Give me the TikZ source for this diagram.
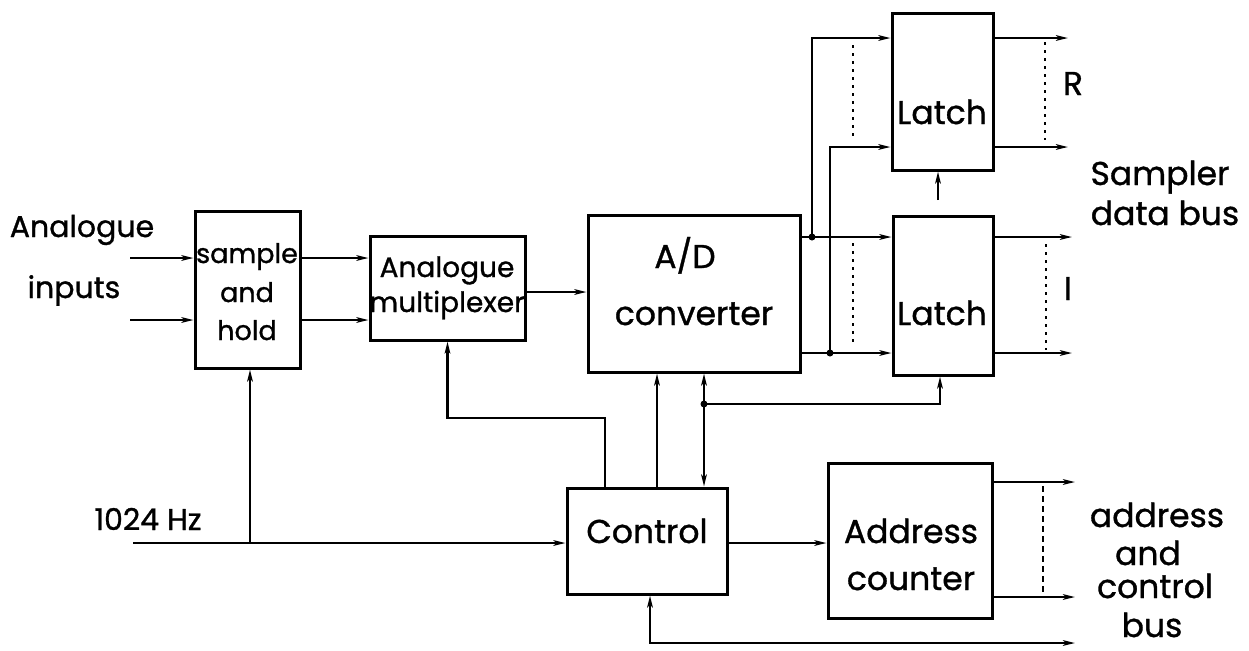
\documentclass[tikz,border=0pt]{standalone}
\usepackage{fontspec}
\setmainfont{Poppins}[FakeBold=1]
\usetikzlibrary{arrows.meta}
\begin{document}
\begin{tikzpicture}[x=0.5pt,y=-0.5pt,
  box/.style={draw, line width=1.5pt, inner sep=0pt},
  wire/.style={line width=1.1pt},
  arr/.style={wire, -{Stealth[length=6pt,width=2.8pt,inset=1.5pt]}},
  dbl/.style={wire, {Stealth[length=6pt,width=2.8pt,inset=1.5pt]}-{Stealth[length=6pt,width=2.8pt,inset=1.5pt]}},
  jdot/.style={circle, fill, inner sep=0pt, minimum size=3.5pt},
  dotline/.style={line width=0.9pt, dash pattern=on 1.5pt off 2.5pt},
  dashline/.style={line width=0.9pt, dash pattern=on 3pt off 2pt},
  big/.style={anchor=base, inner sep=0pt, font=\fontsize{16.5}{20}\selectfont},
  mid/.style={anchor=base, inner sep=0pt, font=\fontsize{15}{18}\selectfont},
  small/.style={anchor=base, inner sep=0pt, font=\fontsize{13.5}{16}\selectfont},
]
\useasboundingbox (0,0) rectangle (1249,650);
\fill[white] (0,0) rectangle (1249,650);

% boxes
\node[box, minimum width=52.5pt, minimum height=78.5pt] (sh) at (247.5,289.5) {};
\node[box, minimum width=77.5pt, minimum height=52pt] (mux) at (447.5,288) {};
\node[box, minimum width=106pt, minimum height=78.5pt] (ad) at (694,293.5) {};
\node[box, minimum width=50.5pt, minimum height=78.5pt] (latR) at (942.5,91.5) {};
\node[box, minimum width=50pt, minimum height=79.5pt] (latI) at (943,295.5) {};
\node[box, minimum width=80pt, minimum height=53pt] (ctrl) at (647,541) {};
\node[box, minimum width=82pt, minimum height=77.5pt] (addr) at (910,540.5) {};

% texts
\node[mid] (t1) at (82,237) {Analogue};
\node[mid] (t2) at (74,298) {inputs};
\node[small] (t3) at (247,263) {sample};
\node[small] (t4) at (247,302) {and};
\node[small] (t5) at (247,340) {hold};
\node[small, font=\fontsize{14}{16}\selectfont] (t6) at (447,277) {Analogue};
\node[small, font=\fontsize{14}{16}\selectfont] (t7) at (447,312) {multiplexer};
\node[big] (t8) at (685,268) {A/D};
\node[big] (t9) at (694,325) {converter};
\node[big] (t10) at (942,124) {Latch};
\node[big] (t11) at (942,325) {Latch};
\node[big] (t12) at (647,543) {Control};
\node[big] (t13) at (911,543) {Address};
\node[big] (t14) at (911,590) {counter};
\node[big] (t15) at (1073,95) {R};
\node[big] (t16) at (1068,300) {I};
\node[big] (t17) at (1160,185) {Sampler};
\node[big] (t18) at (1165,225) {data bus};
\node[mid] (t19) at (148,530) {1024 Hz};
\node[big] (t20) at (1157,527) {address};
\node[big] (t21) at (1148,565) {and};
\node[big] (t22) at (1155,598) {control};
\node[big] (t23) at (1152,637) {bus};

% inputs
\coordinate (in1) at (130,258);
\coordinate (in2) at (130,320);
\draw[arr] (in1) -- (in1 -| sh.west);
\draw[arr] (in2) -- (in2 -| sh.west);
\draw[arr] (sh.east |- in1) -- (mux.west |- in1);
\draw[arr] (sh.east |- in2) -- (mux.west |- in2);
\coordinate (m) at (0,292);
\draw[arr] (mux.east |- m) -- (ad.west |- m);

% A/D to latches
\coordinate (ya) at (0,237);
\coordinate (yb) at (0,353);
\coordinate (yc) at (0,38);
\coordinate (yd) at (0,147);
\coordinate (j1) at (812,237);
\coordinate (j2) at (830,353);
\draw[arr] (ad.east |- ya) -- (latI.west |- ya);
\draw[arr] (ad.east |- yb) -- (latI.west |- yb);
\draw[arr] (j1) -- (j1 |- yc) -- (latR.west |- yc);
\draw[arr] (j2) -- (j2 |- yd) -- (latR.west |- yd);
\node[jdot] (d1) at (j1) {};
\node[jdot] (d2) at (j2) {};
\coordinate (p1) at (853,45);  \coordinate (p2) at (853,140);
\coordinate (p3) at (853,243); \coordinate (p4) at (853,347);
\draw[dotline] (p1) -- (p2);
\draw[dotline] (p3) -- (p4);

% latch control
\coordinate (lc) at (938,200);
\draw[arr] (lc) -- (lc |- latR.south);

% latch outputs
\coordinate (oR) at (1068,0);
\coordinate (oI) at (1072,0);
\draw[arr] (latR.east |- yc) -- (oR |- yc);
\draw[arr] (latR.east |- yd) -- (oR |- yd);
\draw[arr] (latI.east |- ya) -- (oI |- ya);
\draw[arr] (latI.east |- yb) -- (oI |- yb);
\coordinate (q1) at (1045,42);  \coordinate (q2) at (1045,140);
\coordinate (q3) at (1046,244); \coordinate (q4) at (1046,350);
\draw[dotline] (q1) -- (q2);
\draw[dotline] (q3) -- (q4);

% control to A/D
\coordinate (c1) at (657,0);
\coordinate (c2) at (704,0);
\draw[arr] (c1 |- ctrl.north) -- (c1 |- ad.south);
\draw[dbl] (c2 |- ad.south) -- (c2 |- ctrl.north);
\coordinate (j3) at (704,404);
\coordinate (lb) at (940,0);
\draw[arr] (j3) -| (lb |- latI.south);
\node[jdot] (d3) at (j3) {};

% control to multiplexer
\coordinate (c3) at (605,418);
\draw[arr] (c3 |- ctrl.north) -- (c3) -| (mux.south);

% clock
\coordinate (hz) at (133,543);
\coordinate (j4) at (250,543);
\draw[arr] (hz) -- (hz -| ctrl.west);
\draw[arr] (j4) -- (j4 |- sh.south);

% control to address counter
\draw[arr] (ctrl.east |- hz) -- (addr.west |- hz);
\coordinate (ye) at (0,482);
\coordinate (yf) at (0,597);
\coordinate (oA) at (1075,0);
\draw[arr] (addr.east |- ye) -- (oA |- ye);
\draw[arr] (addr.east |- yf) -- (oA |- yf);
\coordinate (r1) at (1043,486); \coordinate (r2) at (1043,592);
\draw[dashline] (r1) -- (r2);

% bottom bus
\coordinate (bt) at (650,643);
\coordinate (be) at (1075,643);
\draw[dbl] (be) -- (bt) -- (bt |- ctrl.south);
\end{tikzpicture}
\end{document}
